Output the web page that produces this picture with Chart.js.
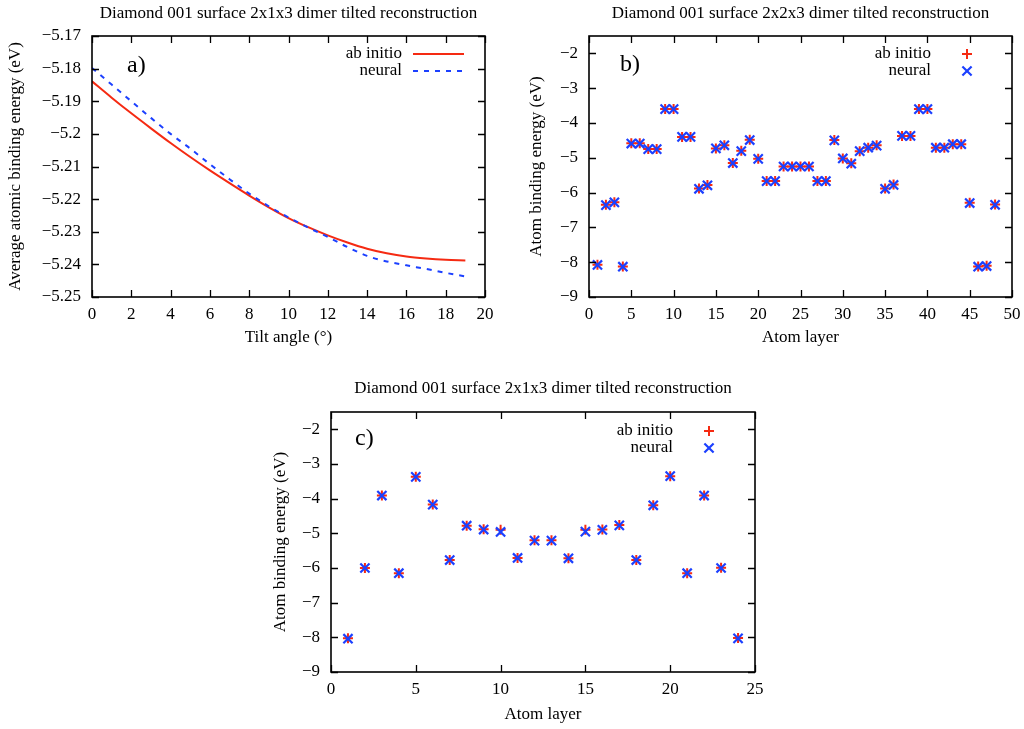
<!DOCTYPE html>
<html>
<head>
<meta charset="utf-8">
<script src="https://cdn.jsdelivr.net/npm/chart.js@4.4.1/dist/chart.umd.min.js"></script>
<style>
  body { margin: 0; background: #fff; width: 1024px; height: 729px; position: relative; overflow: hidden; }
  canvas { position: absolute; }
</style>
</head>
<body>
<canvas id="chartA" width="505" height="350" style="left:0;top:0"></canvas>
<canvas id="chartB" width="504" height="350" style="left:520px;top:0"></canvas>
<canvas id="chartC" width="520" height="354" style="left:262px;top:375px"></canvas>
<script>
// panel a) average binding energy vs tilt angle
const tiltAngles = [0, 1, 2, 3, 4, 5, 6, 7, 8, 9, 10, 11, 12, 13, 14, 15, 16, 17, 18, 19];
const abInitioTilt = [-5.1839, -5.1889, -5.1937, -5.1983, -5.2028, -5.2071, -5.2112, -5.2151, -5.2189, -5.2225,
  -5.2258, -5.2286, -5.2311, -5.2333, -5.2352, -5.2366, -5.2376, -5.2382, -5.2386, -5.2388];
const neuralTilt = [-5.1798, -5.1849, -5.1900, -5.1951, -5.2000, -5.2045, -5.2093, -5.2139, -5.2183, -5.2222,
  -5.2256, -5.2287, -5.2316, -5.2347, -5.2374, -5.2391, -5.2403, -5.2414, -5.2426, -5.2437];
const tiltTicks = [0, 2, 4, 6, 8, 10, 12, 14, 16, 18, 20];
const avgEnergyTicks = [-5.25, -5.24, -5.23, -5.22, -5.21, -5.2, -5.19, -5.18, -5.17];

// panel b) 2x2x3 per-layer energies
const layersB = [];
for (let i = 1; i <= 48; i++) layersB.push(i);
const abInitioB = [-8.07, -6.35, -6.28, -8.12, -4.58, -4.58, -4.75, -4.75, -3.60, -3.60,
  -4.40, -4.40, -5.88, -5.78, -4.73, -4.64, -5.15, -4.80, -4.48, -5.03,
  -5.67, -5.67, -5.25, -5.25, -5.25, -5.25, -5.67, -5.67, -4.49, -5.02,
  -5.16, -4.81, -4.71, -4.64, -5.88, -5.77, -4.37, -4.37, -3.60, -3.60,
  -4.71, -4.71, -4.61, -4.61, -6.29, -8.12, -8.10, -6.34];
const neuralB = [-8.08, -6.36, -6.28, -8.13, -4.59, -4.59, -4.75, -4.75, -3.60, -3.60,
  -4.40, -4.40, -5.89, -5.79, -4.73, -4.64, -5.15, -4.81, -4.49, -5.03,
  -5.67, -5.67, -5.25, -5.25, -5.25, -5.25, -5.67, -5.67, -4.50, -5.02,
  -5.17, -4.81, -4.71, -4.65, -5.89, -5.78, -4.37, -4.37, -3.60, -3.60,
  -4.71, -4.71, -4.61, -4.61, -6.30, -8.13, -8.11, -6.35];
const layerTicksB = [0, 5, 10, 15, 20, 25, 30, 35, 40, 45, 50];

// panel c) 2x1x3 per-layer energies
const layersC = [];
for (let i = 1; i <= 24; i++) layersC.push(i);
const abInitioC = [-8.03, -6.00, -3.91, -6.15, -3.37, -4.17, -5.77, -4.78, -4.88, -4.90,
  -5.71, -5.20, -5.20, -5.72, -4.90, -4.89, -4.76, -5.77, -4.19, -3.35,
  -6.15, -3.91, -5.99, -8.02];
const neuralC = [-8.04, -6.00, -3.91, -6.15, -3.37, -4.17, -5.77, -4.78, -4.89, -4.96,
  -5.71, -5.21, -5.21, -5.72, -4.95, -4.90, -4.77, -5.77, -4.19, -3.35,
  -6.15, -3.91, -6.00, -8.03];
const layerTicksC = [0, 5, 10, 15, 20, 25];

const layerEnergyTicks = [-9, -8, -7, -6, -5, -4, -3, -2];

const RED = "rgb(245, 42, 18)";
const BLUE = "rgb(28, 64, 255)";
const FONT = '"Liberation Serif", "DejaVu Serif", serif';
const FS = 17;

Chart.defaults.font.family = FONT;
Chart.defaults.color = "#000";

function toPoints(xs, ys) {
  return xs.map((x, i) => ({ x: x, y: ys[i] }));
}

function fmt(v) {
  return String(Number(v.toFixed(2))).replace("-", "\u2212");
}

// gnuplot-like frame with inward ticks on all four sides
const framePlugin = {
  id: "gnuFrame",
  afterDatasetsDraw(chart) {
    const ctx = chart.ctx;
    const a = chart.chartArea;
    const len = 7;
    ctx.save();
    ctx.strokeStyle = "#000";
    ctx.lineWidth = 1.3;
    ctx.beginPath();
    chart.scales.x.ticks.forEach((t) => {
      const px = Math.round(chart.scales.x.getPixelForValue(t.value)) + 0.5;
      ctx.moveTo(px, a.bottom);
      ctx.lineTo(px, a.bottom - len);
      ctx.moveTo(px, a.top);
      ctx.lineTo(px, a.top + len);
    });
    chart.scales.y.ticks.forEach((t) => {
      const py = Math.round(chart.scales.y.getPixelForValue(t.value)) + 0.5;
      ctx.moveTo(a.left, py);
      ctx.lineTo(a.left + len, py);
      ctx.moveTo(a.right, py);
      ctx.lineTo(a.right - len, py);
    });
    ctx.stroke();
    ctx.lineWidth = 1.6;
    ctx.strokeRect(a.left, a.top, a.right - a.left, a.bottom - a.top);
    ctx.restore();
  },
  afterDraw(chart, args, opts) {
    const ctx = chart.ctx;
    const a = chart.chartArea;
    ctx.save();
    // panel label
    ctx.font = "24px " + FONT;
    ctx.fillStyle = "#000";
    ctx.textBaseline = "middle";
    ctx.textAlign = "left";
    ctx.fillText(opts.panel, a.left + opts.panelX, a.top + opts.panelY);
    // key, text first then sample
    ctx.font = FS + "px " + FONT;
    ctx.textAlign = "right";
    chart.data.datasets.forEach((ds, i) => {
      const y = a.top + opts.keyTop + i * 17;
      ctx.fillStyle = "#000";
      ctx.fillText(ds.label, a.right - opts.keyText, y);
      ctx.strokeStyle = ds.borderColor;
      ctx.fillStyle = ds.borderColor;
      if (ds.showLine) {
        ctx.lineWidth = ds.borderWidth;
        ctx.setLineDash(ds.borderDash || []);
        ctx.beginPath();
        ctx.moveTo(a.right - opts.keySample[0], y);
        ctx.lineTo(a.right - opts.keySample[1], y);
        ctx.stroke();
        ctx.setLineDash([]);
      } else {
        ctx.lineWidth = ds.pointBorderWidth;
        Chart.helpers.drawPoint(ctx, {
          pointStyle: ds.pointStyle,
          radius: ds.pointRadius,
          rotation: 0,
          borderWidth: ds.pointBorderWidth,
        }, a.right - opts.keySample[0], y);
      }
    });
    ctx.restore();
  },
};

function makeOptions(cfg) {
  return {
    responsive: false,
    animation: false,
    layout: { padding: { left: 0, right: cfg.padRight, top: 0, bottom: 0 } },
    plugins: {
      legend: { display: false },
      tooltip: { enabled: false },
      title: {
        display: true,
        text: cfg.title,
        fullSize: false,
        font: { size: FS, weight: "normal" },
        padding: { top: 3.8, bottom: cfg.titleBottom },
      },
      gnuFrame: cfg.frame,
    },
    scales: {
      x: {
        type: "linear",
        min: cfg.xMin,
        max: cfg.xMax,
        grid: { display: false },
        border: { display: false },
        ticks: { padding: -1, font: { size: FS }, callback: fmt, maxRotation: 0, autoSkip: false },
        title: { display: true, text: cfg.xTitle, font: { size: FS }, padding: { top: 0, bottom: cfg.xTitlePad } },
        afterBuildTicks: (s) => { s.ticks = cfg.xTicks.map((v) => ({ value: v })); },
        afterFit: (s) => { s.height = cfg.xHeight; },
      },
      y: {
        type: "linear",
        min: cfg.yMin,
        max: cfg.yMax,
        grid: { display: false },
        border: { display: false },
        ticks: { padding: 3, font: { size: FS }, callback: fmt, autoSkip: false },
        title: { display: true, text: cfg.yTitle, font: { size: FS }, padding: { top: cfg.yTitlePad, bottom: 0 } },
        afterBuildTicks: (s) => { s.ticks = cfg.yTicks.map((v) => ({ value: v })); },
        afterFit: (s) => { s.width = cfg.yWidth; },
      },
    },
  };
}

function scatterSets(xs, abInitio, neural) {
  return [
    {
      label: "ab initio",
      data: toPoints(xs, abInitio),
      showLine: false,
      pointStyle: "cross",
      pointRadius: 5,
      pointBorderWidth: 2,
      borderColor: RED,
      backgroundColor: RED,
      order: 1,
    },
    {
      label: "neural",
      data: toPoints(xs, neural),
      showLine: false,
      pointStyle: "crossRot",
      pointRadius: 6.5,
      pointBorderWidth: 2.2,
      borderColor: BLUE,
      backgroundColor: BLUE,
      order: 0,
    },
  ];
}

new Chart(document.getElementById("chartA"), {
  type: "scatter",
  data: {
    datasets: [
      {
        label: "ab initio",
        data: toPoints(tiltAngles, abInitioTilt),
        showLine: true,
        borderColor: RED,
        borderWidth: 2,
        pointRadius: 0,
        cubicInterpolationMode: "monotone",
        order: 1,
      },
      {
        label: "neural",
        data: toPoints(tiltAngles, neuralTilt),
        showLine: true,
        borderColor: BLUE,
        borderWidth: 2,
        borderDash: [5, 6],
        pointRadius: 0,
        cubicInterpolationMode: "monotone",
        order: 0,
      },
    ],
  },
  options: makeOptions({
    title: "Diamond 001 surface 2x1x3 dimer tilted reconstruction",
    titleBottom: 11.8,
    padRight: 20,
    xMin: 0, xMax: 20, xTicks: tiltTicks,
    yMin: -5.25, yMax: -5.17, yTicks: avgEnergyTicks,
    xTitle: "Tilt angle (\u00b0)",
    yTitle: "Average atomic binding energy (eV)",
    xHeight: 53, xTitlePad: 1.8,
    yWidth: 92, yTitlePad: 5.5,
    frame: { panel: "a)", panelX: 35, panelY: 30, keyTop: 18, keyText: 83, keySample: [72, 21] },
  }),
  plugins: [framePlugin],
});

new Chart(document.getElementById("chartB"), {
  type: "scatter",
  data: { datasets: scatterSets(layersB, abInitioB, neuralB) },
  options: makeOptions({
    title: "Diamond 001 surface 2x2x3 dimer tilted reconstruction",
    titleBottom: 11.8,
    padRight: 12,
    xMin: 0, xMax: 50, xTicks: layerTicksB,
    yMin: -9, yMax: -1.5, yTicks: layerEnergyTicks,
    xTitle: "Atom layer",
    yTitle: "Atom binding energy (eV)",
    xHeight: 53, xTitlePad: 1.8,
    yWidth: 69, yTitlePad: 6.8,
    frame: { panel: "b)", panelX: 31, panelY: 29, keyTop: 18, keyText: 81, keySample: [45, 45] },
  }),
  plugins: [framePlugin],
});

new Chart(document.getElementById("chartC"), {
  type: "scatter",
  data: { datasets: scatterSets(layersC, abInitioC, neuralC) },
  options: makeOptions({
    title: "Diamond 001 surface 2x1x3 dimer tilted reconstruction",
    titleBottom: 12.8,
    padRight: 27,
    xMin: 0, xMax: 25, xTicks: layerTicksC,
    yMin: -9, yMax: -1.5, yTicks: layerEnergyTicks,
    xTitle: "Atom layer",
    yTitle: "Atom binding energy (eV)",
    xHeight: 57, xTitlePad: 3.8,
    yWidth: 69, yTitlePad: 8.8,
    frame: { panel: "c)", panelX: 24, panelY: 27, keyTop: 19, keyText: 82, keySample: [46, 46] },
  }),
  plugins: [framePlugin],
});
</script>
</body>
</html>
